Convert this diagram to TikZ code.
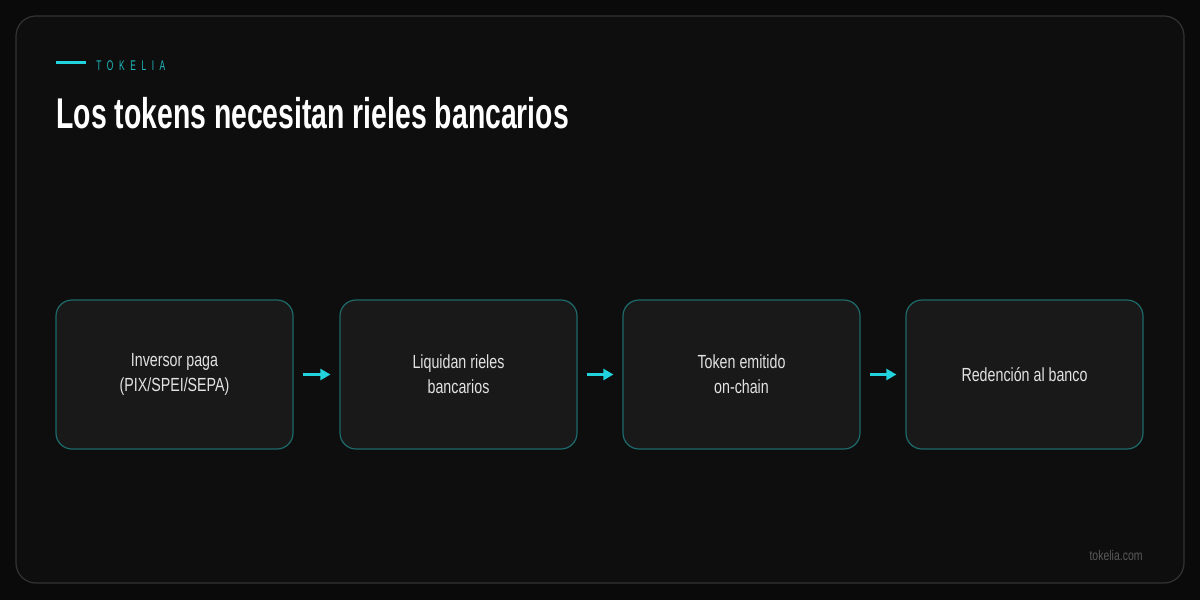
\documentclass[tikz,border=0pt]{standalone}
\usepackage{fontspec}
\setmainfont{Liberation Sans}[FakeStretch=0.75]
\newfontfamily\headfont{Liberation Sans}[FakeStretch=0.66]
\newfontfamily\brandfont{Liberation Sans}[FakeStretch=0.6,LetterSpace=40]
\usetikzlibrary{arrows.meta}
\definecolor{bgcol}{HTML}{0A0A0A}
\definecolor{framecol}{HTML}{0E0E0E}
\definecolor{framedraw}{HTML}{333333}
\definecolor{boxfill}{HTML}{191919}
\definecolor{boxdraw}{HTML}{1E6A6A}
\definecolor{accent}{HTML}{22D3DE}
\definecolor{brandcol}{HTML}{1FB8BE}
\definecolor{boxtext}{HTML}{E2E2E2}
\definecolor{footcol}{HTML}{5A5A5A}
\tikzset{
  stepbox/.style={draw=boxdraw,fill=boxfill,line width=0.6pt,rounded corners=8pt,
    minimum width=118.5pt,minimum height=74.5pt,inner sep=0pt,
    text=boxtext,align=center,font=\fontsize{9.5}{12.5}\selectfont},
  flow/.style={draw=accent,line width=1.1pt,-{Triangle[length=5pt,width=5.5pt]},
    shorten <=4.5pt,shorten >=4.5pt},
}
\begin{document}
\begin{tikzpicture}[x=.5pt,y=-.5pt]
        \fill[bgcol] (0,0) rectangle (1200,600);
        \draw[framedraw,fill=framecol,line width=0.6pt,rounded corners=10pt] (16,16) rectangle (1184,583);

        %% header
        \coordinate (barl) at (56,62);
        \coordinate (barr) at (86,62);
        \draw[accent,line width=1.5pt] (barl) -- (barr);
        \node (brand) at (96,66) [anchor=west,inner sep=0pt,text=brandcol,
          font=\brandfont\fontsize{7}{8}\selectfont] {TOKELIA};
        \node (title) at (56,113) [anchor=west,inner sep=0pt,text=white,
          font=\headfont\fontsize{21.5}{24}\selectfont\bfseries] {Los tokens necesitan rieles bancarios};

        %% steps
        \node (pay)    at (174.5,374.5) [stepbox] {Inversor paga\\(PIX/SPEI/SEPA)};
        \node (settle) at (458.5,374.5) [stepbox] {Liquidan rieles\\bancarios};
        \node (mint)   at (741.5,374.5) [stepbox] {Token emitido\\on-chain};
        \node (redeem) at (1024.5,374.5) [stepbox] {Redención al banco};

        \draw[flow] (pay) -- (settle);
        \draw[flow] (settle) -- (mint);
        \draw[flow] (mint) -- (redeem);

        %% footer
        \node (site) at (1143,555) [anchor=east,inner sep=0pt,text=footcol,
          font=\fontsize{7}{8}\selectfont] {tokelia.com};
\end{tikzpicture}
\end{document}
